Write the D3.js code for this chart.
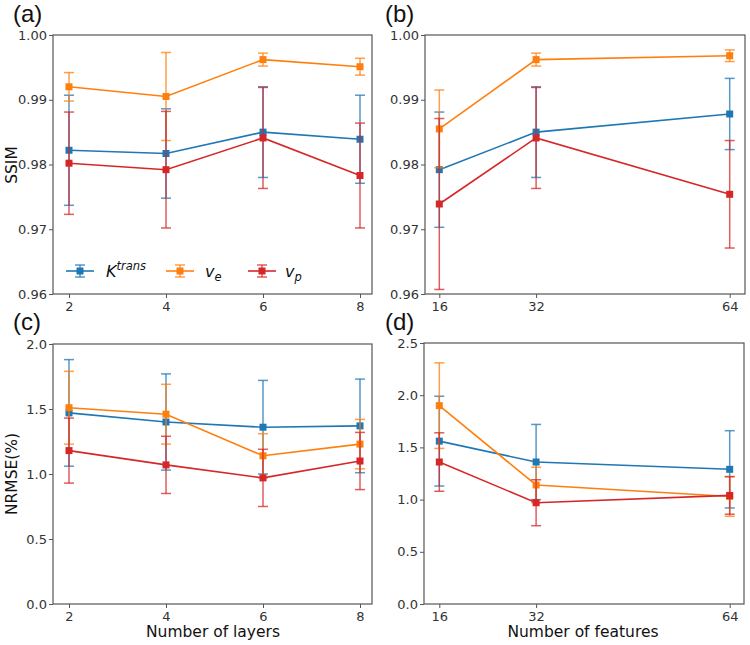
<!DOCTYPE html>
<html><head><meta charset="utf-8">
<script src="https://cdn.jsdelivr.net/npm/d3@7"></script>
<style>body{margin:0;background:#fff}svg{display:block}</style>
</head><body><div id="chart"></div>
<script>
// ---- data ----
const layers = [2, 4, 6, 8];
const features = [16, 32, 64];
const seriesNames = ["Ktrans", "ve", "vp"];
const colors = ["#1f77b4", "#ff7f0e", "#d62728"];

// (a) SSIM vs number of layers
const ssimLayersK   = [0.9822, 0.9817, 0.9850, 0.9839];
const ssimLayersKErr= [0.0085, 0.0069, 0.0070, 0.0068];
const ssimLayersVe  = [0.9920, 0.9905, 0.9962, 0.9951];
const ssimLayersVeErr=[0.0022, 0.0068, 0.0010, 0.0013];
const ssimLayersVp  = [0.9802, 0.9792, 0.9841, 0.9783];
const ssimLayersVpErr=[0.0079, 0.0090, 0.0078, 0.0081];

// (b) SSIM vs number of features
const ssimFeatK   = [0.9792, 0.9850, 0.9878];
const ssimFeatKErr= [0.0089, 0.0070, 0.0055];
const ssimFeatVe  = [0.9855, 0.9962, 0.9968];
const ssimFeatVeErr=[0.0060, 0.0010, 0.0009];
const ssimFeatVp  = [0.9739, 0.9841, 0.9754];
const ssimFeatVpErr=[0.0132, 0.0078, 0.0083];

// (c) NRMSE vs number of layers
const nrmseLayersK   = [1.47, 1.40, 1.36, 1.37];
const nrmseLayersKErr= [0.41, 0.37, 0.36, 0.36];
const nrmseLayersVe  = [1.51, 1.46, 1.14, 1.23];
const nrmseLayersVeErr=[0.28, 0.23, 0.17, 0.19];
const nrmseLayersVp  = [1.18, 1.07, 0.97, 1.10];
const nrmseLayersVpErr=[0.25, 0.22, 0.22, 0.22];

// (d) NRMSE vs number of features
const nrmseFeatK   = [1.56, 1.36, 1.29];
const nrmseFeatKErr= [0.43, 0.36, 0.37];
const nrmseFeatVe  = [1.90, 1.14, 1.03];
const nrmseFeatVeErr=[0.41, 0.17, 0.19];
const nrmseFeatVp  = [1.36, 0.97, 1.04];
const nrmseFeatVpErr=[0.28, 0.22, 0.18];

const ssimTicks = [0.96, 0.97, 0.98, 0.99, 1.00];
const nrmseTicksC = [0.0, 0.5, 1.0, 1.5, 2.0];
const nrmseTicksD = [0.0, 0.5, 1.0, 1.5, 2.0, 2.5];

// ---- drawing ----
const svg = d3.select("#chart").append("svg").attr("width", 750).attr("height", 645);
const tickFont = "DejaVu Sans, sans-serif";

function panel(cfg) {
  const g = svg.append("g");
  const x = d3.scaleLinear().domain(cfg.xd).range(cfg.xr);
  const y = d3.scaleLinear().domain(cfg.yd).range([cfg.b, cfg.t]);

  // axes
  const xa = g.append("g").attr("transform", `translate(0,${cfg.b})`)
    .call(d3.axisBottom(x).tickValues(cfg.xticks).tickSize(4).tickPadding(4).tickFormat(d3.format("d")));
  const ya = g.append("g").attr("transform", `translate(${cfg.l},0)`)
    .call(d3.axisLeft(y).tickValues(cfg.yticks).tickSize(4).tickPadding(2).tickFormat(d3.format(cfg.yfmt)));
  [xa, ya].forEach(a => {
    a.select(".domain").remove();
    a.selectAll("line").attr("stroke", "#555").attr("stroke-width", 1);
    a.selectAll("text").attr("font-family", tickFont).attr("font-size", 13).attr("fill", "#333");
  });

  // series
  cfg.series.forEach((s, i) => {
    const c = colors[i];
    const pts = cfg.xs.map((xv, k) => ({x: xv, y: s.v[k], e: s.e[k]}));
    const line = d3.line().x(d => x(d.x)).y(d => y(d.y));
    g.append("path").datum(pts).attr("d", line).attr("fill", "none")
      .attr("stroke", c).attr("stroke-width", 1.6);
    const eb = g.append("g").attr("stroke", c).attr("stroke-width", 1.5).attr("stroke-opacity", 0.75);
    pts.forEach(d => {
      const hi = Math.min(y(d.y + d.e), 1e9), lo = y(d.y - d.e);
      eb.append("line").attr("x1", x(d.x)).attr("x2", x(d.x)).attr("y1", hi).attr("y2", lo);
      eb.append("line").attr("x1", x(d.x) - 5).attr("x2", x(d.x) + 5).attr("y1", hi).attr("y2", hi);
      eb.append("line").attr("x1", x(d.x) - 5).attr("x2", x(d.x) + 5).attr("y1", lo).attr("y2", lo);
    });
    g.selectAll(null).data(pts).enter().append("rect")
      .attr("x", d => x(d.x) - 3.5).attr("y", d => y(d.y) - 3.5)
      .attr("width", 7).attr("height", 7).attr("fill", c);
  });

  // frame
  g.append("rect").attr("x", cfg.l).attr("y", cfg.t).attr("width", cfg.r - cfg.l).attr("height", cfg.b - cfg.t)
    .attr("fill", "none").attr("stroke", "#555").attr("stroke-width", 1.2);

  // panel letter
  svg.append("text").attr("x", cfg.lx).attr("y", cfg.ly).text(cfg.letter)
    .attr("font-family", "Liberation Sans, Arial, sans-serif").attr("font-size", 24).attr("fill", "#111");
  return {g, x, y};
}

const labelFont = "DejaVu Sans, sans-serif";

const pa = panel({l: 53, r: 372, t: 35, b: 294, xd: [2, 8], xr: [69, 360], yd: [0.96, 1.00],
  xs: layers, xticks: layers, yticks: ssimTicks, yfmt: ".2f", letter: "(a)", lx: 13, ly: 22,
  series: [{v: ssimLayersK, e: ssimLayersKErr}, {v: ssimLayersVe, e: ssimLayersVeErr}, {v: ssimLayersVp, e: ssimLayersVpErr}]});
panel({l: 425, r: 745, t: 35, b: 294, xd: [16, 64], xr: [439.3, 729.7], yd: [0.96, 1.00],
  xs: features, xticks: features, yticks: ssimTicks, yfmt: ".2f", letter: "(b)", lx: 385, ly: 22,
  series: [{v: ssimFeatK, e: ssimFeatKErr}, {v: ssimFeatVe, e: ssimFeatVeErr}, {v: ssimFeatVp, e: ssimFeatVpErr}]});
panel({l: 53, r: 372, t: 344, b: 604, xd: [2, 8], xr: [69, 360], yd: [0, 2.0],
  xs: layers, xticks: layers, yticks: nrmseTicksC, yfmt: ".1f", letter: "(c)", lx: 13, ly: 330,
  series: [{v: nrmseLayersK, e: nrmseLayersKErr}, {v: nrmseLayersVe, e: nrmseLayersVeErr}, {v: nrmseLayersVp, e: nrmseLayersVpErr}]});
panel({l: 424, r: 744, t: 343, b: 604, xd: [16, 64], xr: [439.3, 729.7], yd: [0, 2.5],
  xs: features, xticks: features, yticks: nrmseTicksD, yfmt: ".1f", letter: "(d)", lx: 385, ly: 330,
  series: [{v: nrmseFeatK, e: nrmseFeatKErr}, {v: nrmseFeatVe, e: nrmseFeatVeErr}, {v: nrmseFeatVp, e: nrmseFeatVpErr}]});

// axis titles
svg.append("text").attr("transform", "translate(17,165) rotate(-90)").attr("text-anchor", "middle")
  .attr("font-family", labelFont).attr("font-size", 15.5).attr("fill", "#111").text("SSIM");
svg.append("text").attr("transform", "translate(17,474) rotate(-90)").attr("text-anchor", "middle")
  .attr("font-family", labelFont).attr("font-size", 15.5).attr("fill", "#111").text("NRMSE(%)");
svg.append("text").attr("x", 213).attr("y", 637).attr("text-anchor", "middle")
  .attr("font-family", labelFont).attr("font-size", 15.5).attr("fill", "#111").text("Number of layers");
svg.append("text").attr("x", 583).attr("y", 637).attr("text-anchor", "middle")
  .attr("font-family", labelFont).attr("font-size", 15.5).attr("fill", "#111").text("Number of features");

// legend in panel (a)
const legX = [80, 180, 262];
const leg = svg.append("g");
seriesNames.forEach((n, i) => {
  const cx = legX[i], cy = 271, c = colors[i];
  const h = leg.append("g").attr("stroke", c);
  h.append("line").attr("x1", cx - 14).attr("x2", cx + 14).attr("y1", cy).attr("y2", cy).attr("stroke-width", 1.6);
  const eb = h.append("g").attr("stroke-width", 1.5).attr("stroke-opacity", 0.75);
  eb.append("line").attr("x1", cx).attr("x2", cx).attr("y1", cy - 6).attr("y2", cy + 6);
  eb.append("line").attr("x1", cx - 5).attr("x2", cx + 5).attr("y1", cy - 6).attr("y2", cy - 6);
  eb.append("line").attr("x1", cx - 5).attr("x2", cx + 5).attr("y1", cy + 6).attr("y2", cy + 6);
  leg.append("rect").attr("x", cx - 3.5).attr("y", cy - 3.5).attr("width", 7).attr("height", 7).attr("fill", c);
});
const lt = (x) => leg.append("text").attr("x", x).attr("y", 277).attr("font-family", labelFont)
  .attr("font-style", "italic").attr("font-size", 16).attr("fill", "#111");
const t1 = lt(106);
t1.append("tspan").text("K");
t1.append("tspan").attr("dy", -7).attr("font-size", 11.5).text("trans");
const t2 = lt(205);
t2.append("tspan").text("v");
t2.append("tspan").attr("dy", 4).attr("font-size", 11.5).text("e");
const t3 = lt(285);
t3.append("tspan").text("v");
t3.append("tspan").attr("dy", 4).attr("font-size", 11.5).text("p");
</script></body></html>
